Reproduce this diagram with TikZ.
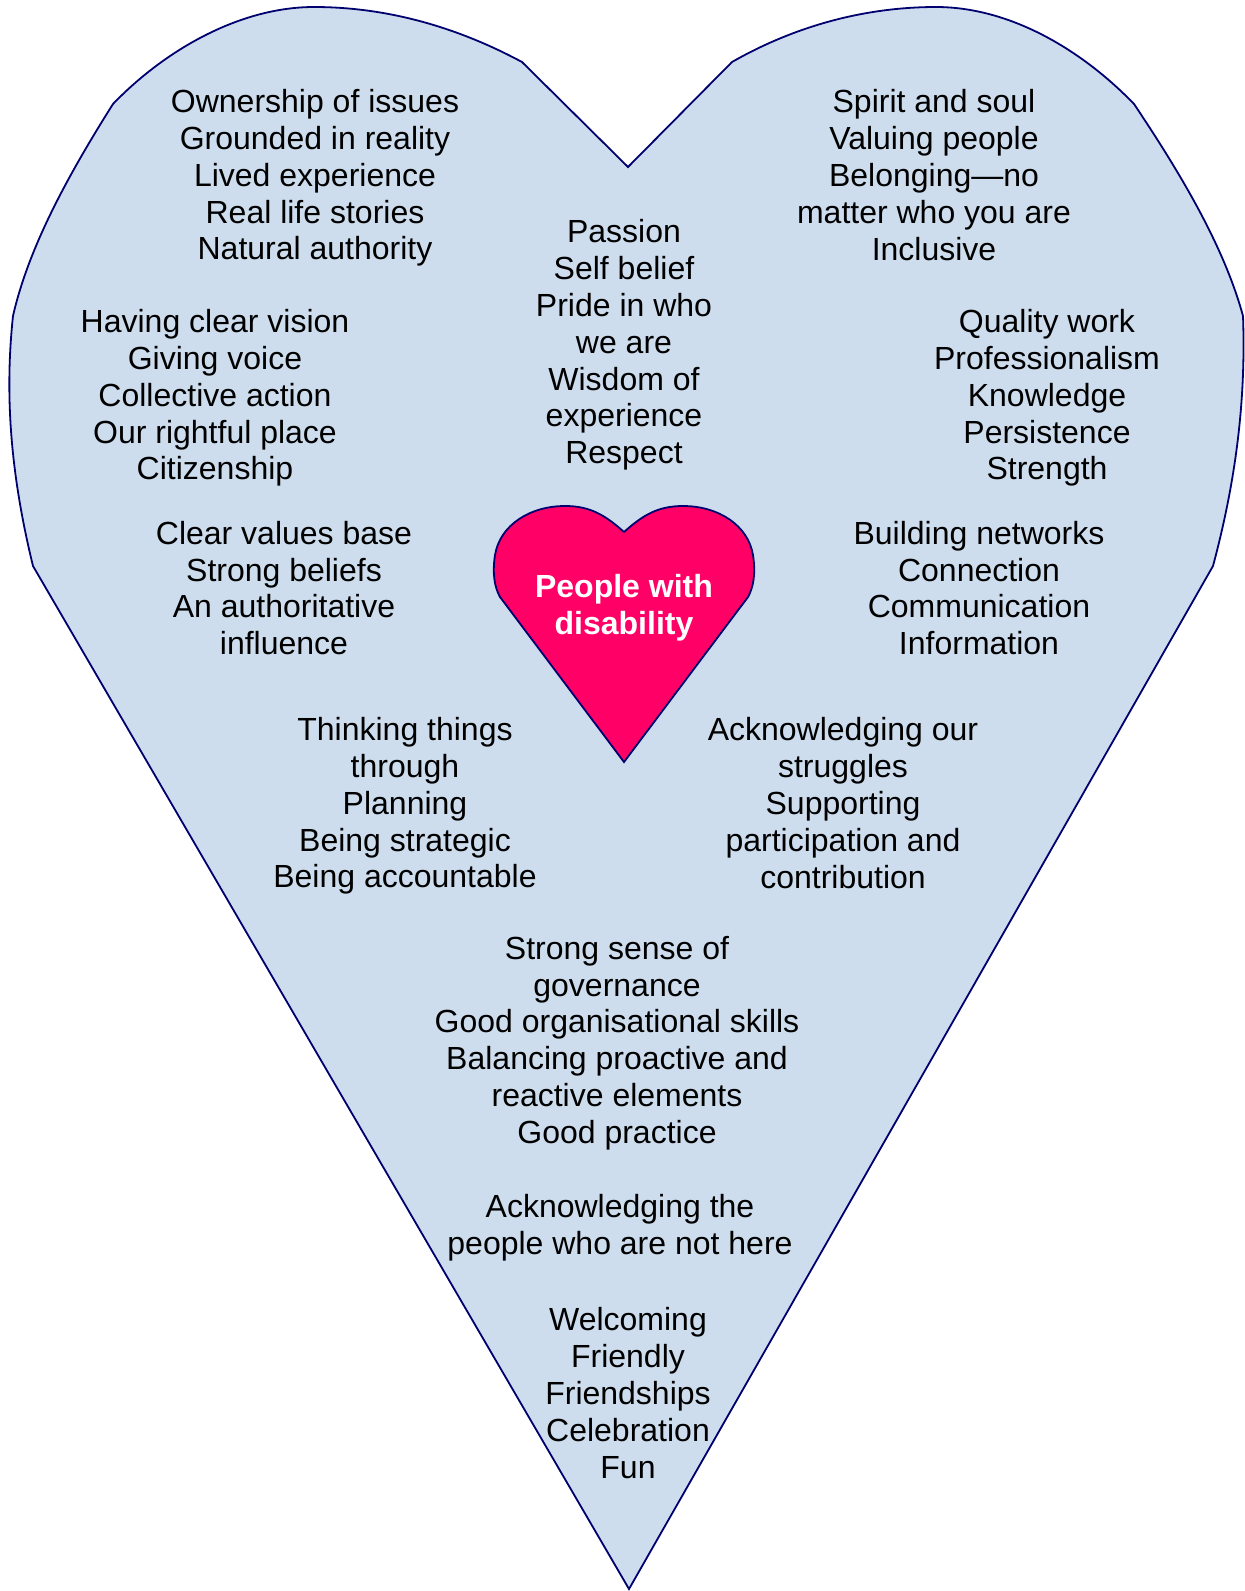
\documentclass[tikz,border=0pt]{standalone}
\usepackage{fontspec}
\setmainfont{Liberation Sans}
\definecolor{heartfill}{RGB}{205,221,237}
\definecolor{heartline}{RGB}{0,0,110}
\definecolor{corefill}{RGB}{255,0,102}
\begin{document}
\begin{tikzpicture}[x=0.5pt,y=-0.5pt,
  words/.style={align=center,inner sep=0pt,font=\fontsize{16}{18.4}\selectfont},
  core/.style={align=center,inner sep=0pt,text=white,font=\fontsize{16}{18.4}\selectfont\bfseries},
  outline/.style={draw=heartline,line width=0.9pt,line join=miter}]
\useasboundingbox (0,0) rectangle (1245,1591);

% large heart
\coordinate (N) at (628,167);
\coordinate (tip) at (629,1589);
\draw[outline,fill=heartfill]
  (N) -- (522,62)
  .. controls (455,26) and (385,7) .. (314,7)
  .. controls (240,7) and (165,50) .. (113,104)
  .. controls (65,180) and (28,250) .. (13,316)
  .. controls (4,400) and (12,480) .. (33,566)
  -- (tip) -- (1213,566)
  .. controls (1236,480) and (1246,400) .. (1243,316)
  .. controls (1225,250) and (1185,180) .. (1134,104)
  .. controls (1082,50) and (1010,7) .. (936,7)
  .. controls (865,7) and (795,26) .. (732,62)
  -- cycle;

% small heart
\coordinate (n2) at (624,532);
\coordinate (tip2) at (624,762);
\draw[outline,fill=corefill]
  (n2) .. controls (605,515) and (590,506) .. (565,506)
  .. controls (530,506) and (500,525) .. (495,555)
  .. controls (492,575) and (495,588) .. (500,597)
  -- (tip2) -- (748,597)
  .. controls (753,588) and (756,575) .. (753,555)
  .. controls (748,525) and (718,506) .. (683,506)
  .. controls (658,506) and (643,515) .. (n2);

\node[core] (pwd) at (624,608) {People with\\disability};

\node[words] (own) at (315,178) {Ownership of issues\\Grounded in reality\\Lived experience\\Real life stories\\Natural authority};
\node[words] (vision) at (215,398) {Having clear vision\\Giving voice\\Collective action\\Our rightful place\\Citizenship};
\node[words] (values) at (284,588) {Clear values base\\Strong beliefs\\An authoritative\\influence};
\node[words] (passion) at (624,345) {Passion\\Self belief\\Pride in who\\we are\\Wisdom of\\experience\\Respect};
\node[words] (spirit) at (934,175) {Spirit and soul\\Valuing people\\Belonging—no\\matter who you are\\Inclusive};
\node[words] (quality) at (1047,398) {Quality work\\Professionalism\\Knowledge\\Persistence\\Strength};
\node[words] (networks) at (979,588) {Building networks\\Connection\\Communication\\Information};
\node[words] (thinking) at (405,806) {Thinking things\\through\\Planning\\Being strategic\\Being accountable};
\node[words] (struggles) at (843,803) {Acknowledging our\\struggles\\Supporting\\participation and\\contribution};
\node[words] (governance) at (617,1043) {Strong sense of\\governance\\Good organisational skills\\Balancing proactive and\\reactive elements\\Good practice};
\node[words] (absent) at (620,1228) {Acknowledging the\\people who are not here};
\node[words] (welcome) at (628,1393) {Welcoming\\Friendly\\Friendships\\Celebration\\Fun};
\end{tikzpicture}
\end{document}
